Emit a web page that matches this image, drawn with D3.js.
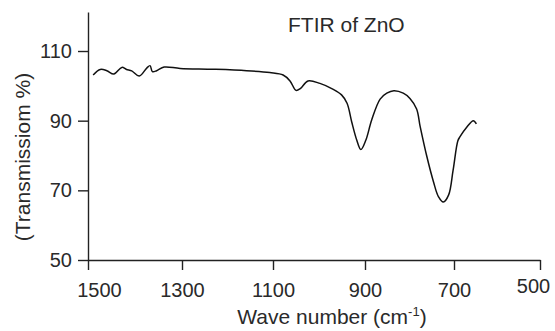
<!DOCTYPE html>
<html>
<head>
<meta charset="utf-8">
<script src="https://cdn.jsdelivr.net/npm/d3@7"></script>
<style>
  html, body { margin: 0; padding: 0; background: #fff; }
  svg { display: block; font-family: "Liberation Sans", Arial, sans-serif; }
</style>
</head>
<body>
<svg id="chart" width="555" height="331"></svg>
<script>
// ---- data ----
const waveNumbers = [1489, 1474, 1460, 1445, 1428, 1418, 1407, 1391, 1375, 1368, 1363, 1354, 1338, 1304,
  1231, 1158, 1107, 1078, 1063, 1050, 1040, 1024, 998, 969, 951, 939, 929, 918, 909, 898, 885, 866,
  851, 835, 814, 799, 784, 776, 761, 746, 735, 724, 712, 702, 691, 686, 670, 655, 648];
const transmission = [103.1, 104.7, 104.35, 103.4, 105.3, 104.7, 104.3, 102.8, 105.1, 105.8, 104.1, 104.35, 105.4, 105.0,
  104.75, 104.35, 103.8, 103.1, 101.4, 98.7, 99.3, 101.4, 100.7, 99.0, 97.4, 95.0, 89.7, 84.45, 81.7, 84.45, 90.2, 96.2,
  97.9, 98.6, 97.9, 96.4, 93.35, 88.3, 79.7, 72.4, 68.2, 66.65, 68.7, 75.8, 84.25, 85.4, 88.2, 90.0, 89.05];
const xTicks = [1500, 1300, 1100, 900, 700, 500];
const yTicks = [50, 70, 90, 110];
const titleText = "FTIR of ZnO";
const xLabel = "Wave number (cm";
const xLabelSup = "-1";
const yLabel = "(Transmissiom %)";

// ---- scales ----
const svg = d3.select("#chart");
const x = d3.scaleLinear().domain(xTicks).range([88, 182, 273, 365, 454, 540]);
const y = d3.scaleLinear().domain([50, 121.2]).range([260, 12]);

const textColor = "#2a2a2a";

// axes
const xAxis = svg.append("g").attr("transform", "translate(0,260)")
  .call(d3.axisBottom(x).tickValues(xTicks).tickFormat(d3.format("d")).tickSize(10).tickSizeOuter(0).tickPadding(13));
const yAxis = svg.append("g").attr("transform", "translate(88,0)")
  .call(d3.axisLeft(y).tickValues(yTicks).tickFormat(d3.format("d")).tickSize(10).tickSizeOuter(0).tickPadding(6));

[xAxis, yAxis].forEach(g => {
  g.select(".domain").attr("stroke", "#222").attr("stroke-width", 1.4);
  g.selectAll(".tick line").attr("stroke", "#222").attr("stroke-width", 1.4);
  g.selectAll(".tick text").attr("fill", textColor).style("font-size", "20px")
    .style("font-family", "'Liberation Sans', Arial, sans-serif");
});
// label nudges as in the reference
xAxis.selectAll(".tick text").filter(d => d === 1500).attr("dx", 11);
xAxis.selectAll(".tick text").filter(d => d === 500).attr("dx", -7).attr("y", 19);

// curve
const pts = waveNumbers.map((w, i) => [w, transmission[i]]);
const line = d3.line().x(d => x(d[0])).y(d => y(d[1])).curve(d3.curveCatmullRom.alpha(0.5));
svg.append("path").datum(pts).attr("d", line)
  .attr("fill", "none").attr("stroke", "#111").attr("stroke-width", 1.5).attr("stroke-linejoin", "round");

// title
svg.append("text").attr("x", 288).attr("y", 32).attr("fill", textColor)
  .style("font-size", "21px").text(titleText);

// x label
const xl = svg.append("text").attr("x", 332).attr("y", 324).attr("text-anchor", "middle")
  .attr("fill", textColor).style("font-size", "21px");
xl.append("tspan").text(xLabel);
xl.append("tspan").attr("dy", -8).style("font-size", "13px").text(xLabelSup);
xl.append("tspan").attr("dy", 8).text(")");

// y label
svg.append("text").attr("transform", "translate(30,157) rotate(-90)").attr("text-anchor", "middle")
  .attr("fill", textColor).style("font-size", "21px").text(yLabel);
</script>
</body>
</html>
